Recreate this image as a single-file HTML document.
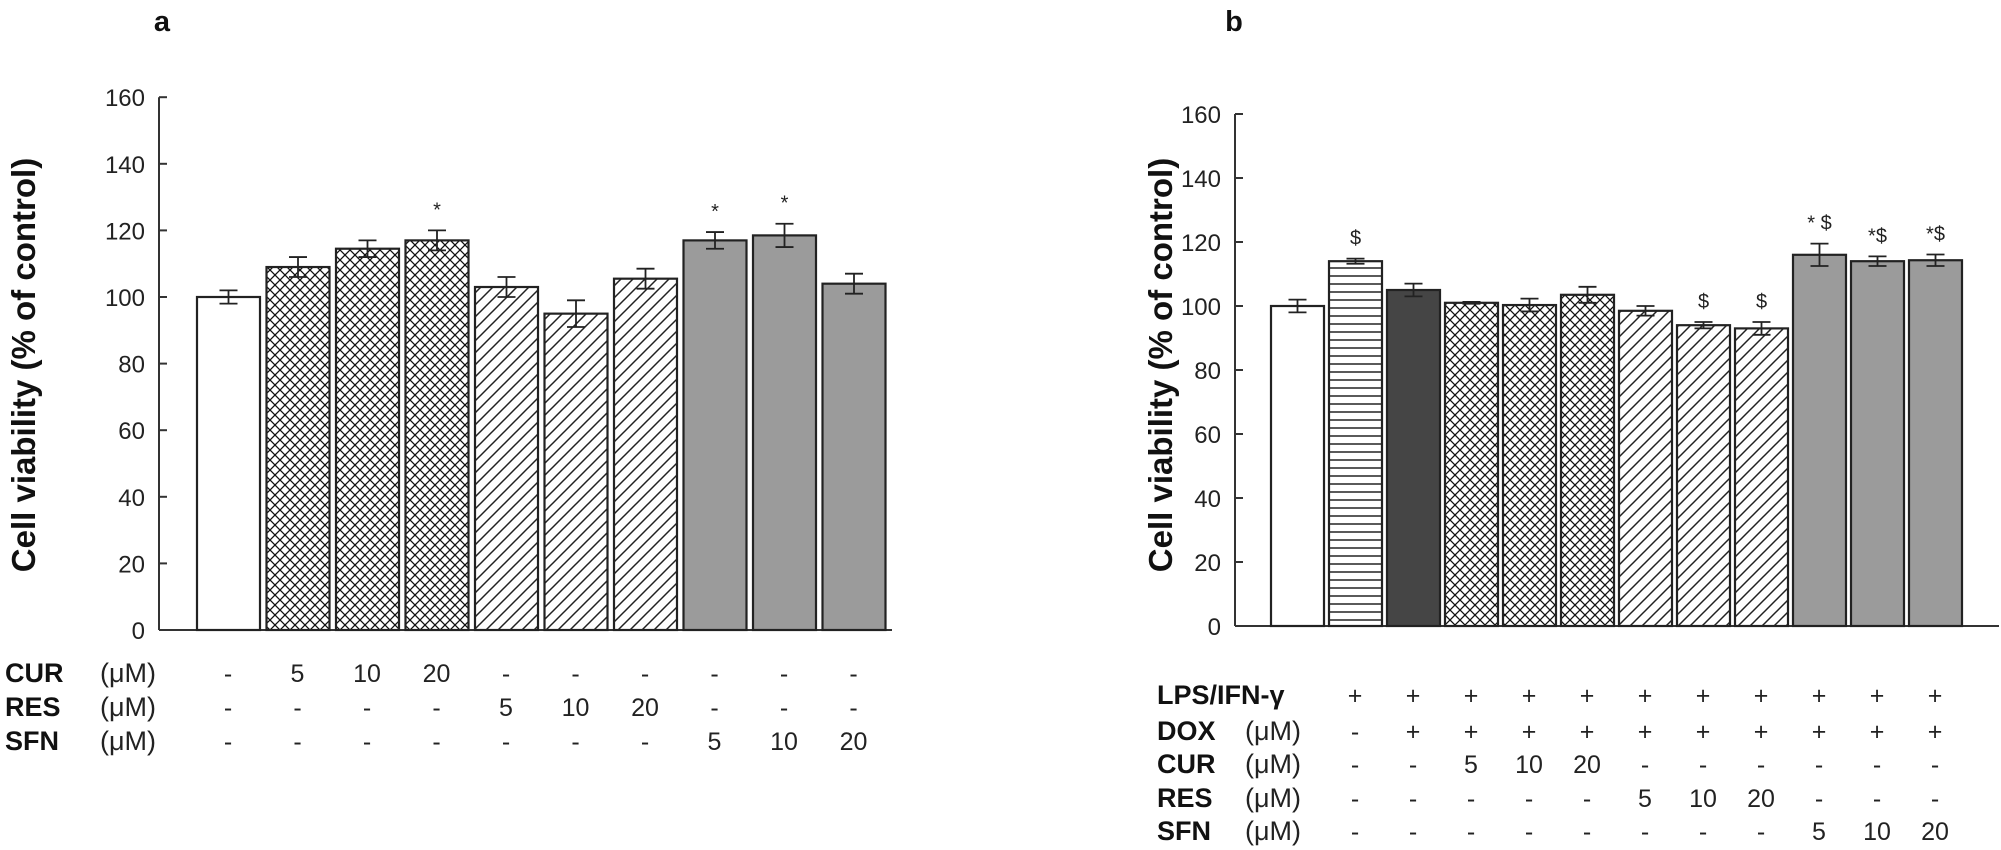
<!DOCTYPE html>
<html><head><meta charset="utf-8"><style>
html,body{margin:0;padding:0;background:#fff;}
svg{display:block;font-family:"Liberation Sans",Arial,sans-serif;}
.t{fill:#222;}
.b{font-weight:bold;fill:#111;}
</style></head><body>
<svg width="2001" height="850" viewBox="0 0 2001 850" xmlns="http://www.w3.org/2000/svg">
<defs>
<pattern id="cross" width="10" height="10" patternUnits="userSpaceOnUse">
<rect width="10" height="10" fill="#fff"/>
<path d="M0,0L10,10M10,0L0,10M-5,5L5,15M5,-5L15,5M5,15L15,5M-5,5L5,-5" stroke="#111" stroke-width="1.3"/>
</pattern>
<pattern id="diag" width="12" height="12" patternUnits="userSpaceOnUse">
<rect width="12" height="12" fill="#fff"/>
<path d="M0,12L12,0M-6,6L6,-6M6,18L18,6" stroke="#222" stroke-width="1.5"/>
</pattern>
<pattern id="horiz" width="8" height="8" patternUnits="userSpaceOnUse">
<rect width="8" height="8" fill="#fff"/>
<path d="M0,4H8" stroke="#222" stroke-width="1.5"/>
</pattern>
</defs>
<g id="A"></g>
<g id="B"></g>
</svg>
<script>
const NS="http://www.w3.org/2000/svg";
function el(p,tag,attrs,txt){const e=document.createElementNS(NS,tag);for(const k in attrs)e.setAttribute(k,attrs[k]);if(txt!==undefined)e.textContent=txt;p.appendChild(e);return e;}
function panel(g,o){
  const {ax,y0,ppu,x0,sp,w,vals,fills,notes,endx}=o;
  const Y=v=>y0-v*ppu;
  el(g,'line',{x1:ax,y1:Y(160),x2:ax,y2:y0,stroke:'#333','stroke-width':2});
  el(g,'line',{x1:ax,y1:y0,x2:endx,y2:y0,stroke:'#333','stroke-width':2});
  for(let v=0;v<=160;v+=20){
    el(g,'line',{x1:ax,y1:Y(v),x2:ax+8,y2:Y(v),stroke:'#333','stroke-width':2});
    el(g,'text',{x:ax-14,y:Y(v)+9,'text-anchor':'end',class:'t','font-size':'24'},String(v));
  }
  vals.forEach((d,i)=>{
    const x=x0+sp*i;
    el(g,'rect',{x:x,y:Y(d[0]),width:w,height:d[0]*ppu,fill:fills[i],stroke:'#222','stroke-width':2.2});
    const cx=x+w/2, t=Y(d[0]+d[1]), b=Y(d[0]-d[1]);
    el(g,'line',{x1:cx,y1:t,x2:cx,y2:b,stroke:'#222','stroke-width':1.8});
    el(g,'line',{x1:cx-9,y1:t,x2:cx+9,y2:t,stroke:'#222','stroke-width':1.8});
    el(g,'line',{x1:cx-9,y1:b,x2:cx+9,y2:b,stroke:'#222','stroke-width':1.8});
    if(notes[i]) el(g,'text',{x:cx,y:t-14,'text-anchor':'middle',class:'t','font-size':'20'},notes[i]);
  });
}
const A=document.getElementById('A'),B=document.getElementById('B');
panel(A,{ax:159,y0:630,ppu:3.33,x0:197,sp:69.5,w:63,endx:892,
 vals:[[100,2],[109,3],[114.5,2.5],[117,3],[103,3],[95,4],[105.5,3],[117,2.5],[118.5,3.5],[104,3]],
 fills:['#fff','url(#cross)','url(#cross)','url(#cross)','url(#diag)','url(#diag)','url(#diag)','#9b9b9b','#9b9b9b','#9b9b9b'],
 notes:['','','','*','','','','*','*','']});
el(A,'text',{x:162,y:31,'text-anchor':'middle',class:'b','font-size':'29'},'a');
el(A,'text',{x:0,y:0,transform:'translate(35,365) rotate(-90)','text-anchor':'middle',class:'b','font-size':'33'},'Cell viability (% of control)');
const rowsA=[['CUR',672,['-','5','10','20','-','-','-','-','-','-']],['RES',706,['-','-','-','-','5','10','20','-','-','-']],['SFN',740,['-','-','-','-','-','-','-','5','10','20']]];
rowsA.forEach(r=>{
  el(A,'text',{x:5,y:r[1]+10,class:'b','font-size':'27'},r[0]);
  el(A,'text',{x:100,y:r[1]+10,class:'t','font-size':'27'},'(\u03bcM)');
  r[2].forEach((s,i)=>el(A,'text',{x:228+69.5*i,y:r[1]+10,'text-anchor':'middle',class:'t','font-size':'25'},s));
});
panel(B,{ax:1235,y0:626,ppu:3.2,x0:1271,sp:58,w:53,endx:1999,
 vals:[[100,2],[114,0.8],[105,2],[101,0.3],[100.3,2],[103.5,2.5],[98.5,1.5],[94,1],[93,2],[116,3.5],[114,1.5],[114.3,1.8]],
 fills:['#fff','url(#horiz)','#454545','url(#cross)','url(#cross)','url(#cross)','url(#diag)','url(#diag)','url(#diag)','#9b9b9b','#9b9b9b','#9b9b9b'],
 notes:['','$','','','','','','$','$','* $','*$','*$']});
el(B,'text',{x:1234,y:31,'text-anchor':'middle',class:'b','font-size':'29'},'b');
el(B,'text',{x:0,y:0,transform:'translate(1172,365) rotate(-90)','text-anchor':'middle',class:'b','font-size':'33'},'Cell viability (% of control)');
const rowsB=[['LPS/IFN-\u03b3',694,Array(11).fill('+'),false],['DOX',730,['-'].concat(Array(10).fill('+')),true],
 ['CUR',763,['-','-','5','10','20','-','-','-','-','-','-'],true],['RES',797,['-','-','-','-','-','5','10','20','-','-','-'],true],
 ['SFN',830,['-','-','-','-','-','-','-','-','5','10','20'],true]];
rowsB.forEach(r=>{
  el(B,'text',{x:1157,y:r[1]+10,class:'b','font-size':'27'},r[0]);
  if(r[3]) el(B,'text',{x:1245,y:r[1]+10,class:'t','font-size':'27'},'(\u03bcM)');
  r[2].forEach((s,i)=>el(B,'text',{x:1355+58*i,y:r[1]+10,'text-anchor':'middle',class:'t','font-size':'25'},s));
});
</script>
</body></html>
